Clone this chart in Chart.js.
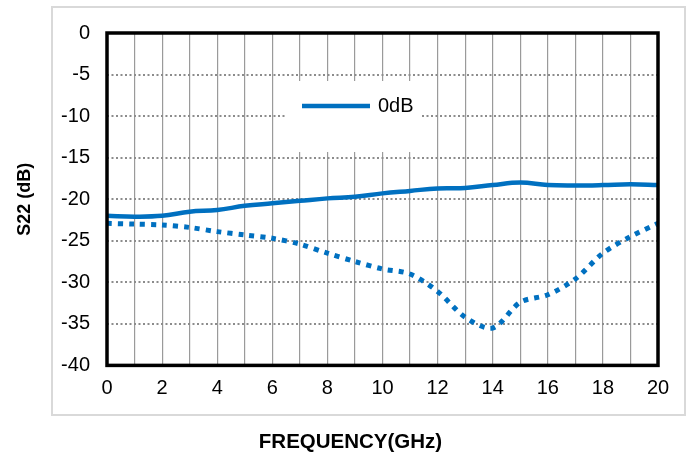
<!DOCTYPE html>
<html>
<head>
<meta charset="utf-8">
<script src="https://cdn.jsdelivr.net/npm/chart.js@4/dist/chart.umd.min.js"></script>
<style>
  html, body { margin: 0; padding: 0; background: #fff; }
  #wrap { width: 687px; height: 455px; }
</style>
</head>
<body>
<div id="wrap"><canvas id="s22Chart" width="687" height="455"></canvas></div>
<script>
const frequency = [0, 1, 2, 3, 4, 5, 6, 7, 8, 9, 10, 11, 12, 13, 14, 15, 16, 17, 18, 19, 20];
const s22Solid = [-22.0, -22.1, -22.0, -21.5, -21.3, -20.8, -20.5, -20.2, -19.9, -19.7, -19.3,
                  -19.0, -18.7, -18.65, -18.3, -18.0, -18.3, -18.35, -18.3, -18.2, -18.3];
const s22Dotted = [-22.9, -23.0, -23.1, -23.4, -23.9, -24.3, -24.7, -25.4, -26.5, -27.5, -28.4,
                   -29.0, -31.1, -34.2, -35.5, -32.4, -31.5, -29.6, -26.5, -24.5, -22.9];
const xTickLabels = [0, 2, 4, 6, 8, 10, 12, 14, 16, 18, 20];
const seriesNames = ['0dB', ''];

const blue = '#0070C0';
const fontFamily = '"Liberation Sans", Arial, sans-serif';

// grey box round the chart, black frame round the plot, legend inside the plot
const chartDecor = {
    id: 'chartDecor',
    beforeDraw(chart) {
        const ctx = chart.ctx;
        ctx.save();
        ctx.fillStyle = '#fff';
        ctx.fillRect(0, 0, chart.width, chart.height);
        ctx.strokeStyle = '#d9d9d9';
        ctx.lineWidth = 2;
        ctx.strokeRect(52, 7, 633, 408);
        ctx.restore();
    },
    afterDatasetsDraw(chart) {
        const ctx = chart.ctx;
        const a = chart.chartArea;
        ctx.save();
        // legend
        const lx = a.left + 178, ly = a.top + 48;
        ctx.fillStyle = '#fff';
        ctx.fillRect(lx, ly, 135, 71);
        const ds = chart.data.datasets[0];
        ctx.strokeStyle = ds.borderColor;
        ctx.lineWidth = ds.borderWidth;
        ctx.beginPath();
        ctx.moveTo(lx + 17, ly + 25);
        ctx.lineTo(lx + 85, ly + 25);
        ctx.stroke();
        ctx.fillStyle = '#000';
        ctx.font = '20px ' + fontFamily;
        ctx.textBaseline = 'middle';
        ctx.fillText(ds.label, lx + 93, ly + 25);
        // plot frame
        ctx.strokeStyle = '#000';
        ctx.lineWidth = 3.5;
        ctx.strokeRect(a.left, a.top, a.right - a.left, a.bottom - a.top);
        ctx.restore();
    }
};

const ctx = document.getElementById('s22Chart').getContext('2d');
const chart = new Chart(ctx, {
    type: 'line',
    data: {
        datasets: [{
            label: seriesNames[0],
            data: frequency.map((f, i) => ({ x: f, y: s22Solid[i] })),
            borderColor: blue,
            borderWidth: 4.5,
            pointRadius: 0,
            tension: 0.4,
            fill: false
        },
        {
            label: seriesNames[1],
            data: frequency.map((f, i) => ({ x: f, y: s22Dotted[i] })),
            borderColor: blue,
            borderWidth: 5,
            borderDash: [5, 6],
            borderCapStyle: 'butt',
            pointRadius: 0,
            tension: 0.3,
            fill: false
        }]
    },
    options: {
        responsive: false,
        animation: false,
        layout: { padding: { left: 14, top: 33, right: 0, bottom: 0 } },
        plugins: {
            legend: { display: false },
            tooltip: { enabled: false },
            title: {
                display: true,
                position: 'bottom',
                text: 'FREQUENCY(GHz)',
                color: '#000',
                font: { family: fontFamily, size: 20.5, weight: 'bold' },
                padding: { top: 0, bottom: 0 }
            }
        },
        scales: {
            x: {
                type: 'linear',
                min: 0,
                max: 20,
                afterFit: s => { s.height = 65; },
                ticks: {
                    stepSize: 1,
                    autoSkip: false,
                    maxRotation: 0,
                    padding: 11,
                    color: '#000',
                    font: { family: fontFamily, size: 20 },
                    callback: v => xTickLabels.includes(v) ? String(v) : ''
                },
                grid: { color: '#9a9a9a', lineWidth: 1.2, drawTicks: false },
                border: { display: false }
            },
            y: {
                min: -40,
                max: 0,
                afterFit: s => { s.width = 93; },
                title: {
                    display: true,
                    text: 'S22 (dB)',
                    color: '#000',
                    font: { family: fontFamily, size: 18, weight: 'bold' },
                    padding: { top: 0, bottom: 0 }
                },
                ticks: {
                    stepSize: 5,
                    padding: 17,
                    color: '#000',
                    font: { family: fontFamily, size: 20 }
                },
                grid: { color: '#8c8c8c', lineWidth: 2, drawTicks: false },
                border: { display: false, dash: [2, 2.5] }
            },
            yRight: {
                type: 'linear',
                position: 'right',
                display: true,
                afterFit: s => { s.width = 29; },
                ticks: { display: false },
                grid: { display: false },
                border: { display: false }
            }
        }
    },
    plugins: [chartDecor]
});
</script>
</body>
</html>
